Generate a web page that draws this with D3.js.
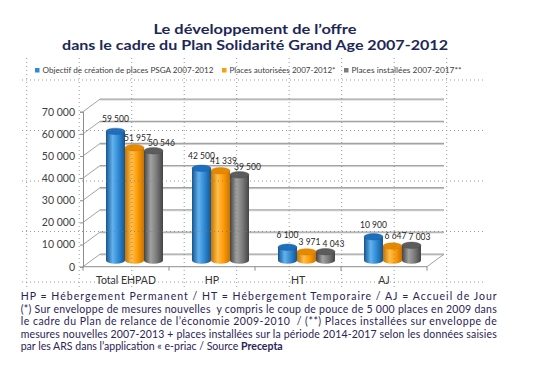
<!DOCTYPE html>
<html><head><meta charset="utf-8">
<script src="https://cdn.jsdelivr.net/npm/d3@7"></script>
<style>html,body{margin:0;padding:0;background:#fff;} svg{display:block;}</style>
</head><body><svg id="c" width="534" height="373"></svg>
<script>
// ---------- DATA ----------
const categories = ["Total EHPAD", "HP", "HT", "AJ"];
const seriesNames = ["Objectif de création de places PSGA 2007-2012", "Places autorisées 2007-2012*", "Places installées 2007-2017**"];
const objectif = [59500, 42500, 6100, 10900];
const autorisees = [51957, 41339, 3971, 6647];
const installees = [50546, 39500, 4043, 7003];
const yTicks = [0, 10000, 20000, 30000, 40000, 50000, 60000, 70000];
const titleLines = ["Le développement de l’offre", "dans le cadre du Plan Solidarité Grand Age 2007-2012"];
const noteLines = [
  "HP = Hébergement Permanent / HT = Hébergement Temporaire / AJ = Accueil de Jour",
  "(*) Sur enveloppe de mesures nouvelles  y compris le coup de pouce de 5 000 places en 2009 dans",
  "le cadre du Plan de relance de l’économie 2009-2010  / (**) Places installées sur enveloppe de",
  "mesures nouvelles 2007-2013 + places installées sur la période 2014-2017 selon les données saisies",
  "par les ARS dans l’application « e-priac / Source "
];
const noteBold = "Precepta";

// ---------- STYLE / LAYOUT ----------
const seriesValues = [objectif, autorisees, installees];
const colors = [
  {edge:"#15558f", mid:"#2f8ad6", hi:"#63b2ee", top:"#1d6fbd"},
  {edge:"#c77300", mid:"#ff9c0a", hi:"#ffbf4a", top:"#e58a00"},
  {edge:"#444444", mid:"#7c7c7c", hi:"#a2a2a2", top:"#5c5c5c"}
];
const FONT = "Lato, 'Open Sans', sans-serif";
const X0 = 83, X1 = 427, Y0 = 266.7, YT = 111.7, DX = 17, DY = -12.5;

const fr = d3.formatLocale({decimal: ",", thousands: "\u00a0", grouping: [3], currency: ["", " €"]});
const fmt = fr.format(",d");

const svg = d3.select("#c");
const defs = svg.append("defs");
colors.forEach((c, i) => {
  const g = defs.append("linearGradient").attr("id", "g" + i).attr("x1", 0).attr("x2", 1).attr("y1", 0).attr("y2", 0);
  g.append("stop").attr("offset", "0%").attr("stop-color", c.edge);
  g.append("stop").attr("offset", "35%").attr("stop-color", c.hi);
  g.append("stop").attr("offset", "65%").attr("stop-color", c.mid);
  g.append("stop").attr("offset", "100%").attr("stop-color", c.edge);
});

// Title
const TITLE = "#1d2858";
svg.selectAll("text.title").data(titleLines).join("text")
  .attr("class", "title")
  .attr("x", 255).attr("y", (d, i) => 34 + i * 16)
  .attr("text-anchor", "middle")
  .attr("font-family", FONT).attr("font-weight", "bold").attr("font-size", 14)
  .attr("fill", TITLE)
  .attr("textLength", (d, i) => i === 0 ? 203 : 386)
  .attr("lengthAdjust", "spacingAndGlyphs")
  .text(d => d);

// Legend
const legX = [35, 222, 344], legW = [171, 106, 110];
const leg = svg.append("g");
seriesNames.forEach((n, i) => {
  leg.append("rect").attr("x", legX[i]).attr("y", 68).attr("width", 4.5).attr("height", 4.5).attr("fill", colors[i].mid);
  leg.append("text").attr("x", legX[i] + 7.5).attr("y", 73)
    .attr("font-family", FONT).attr("font-size", 8).attr("fill", "#404040")
    .attr("textLength", legW[i]).attr("lengthAdjust", "spacingAndGlyphs")
    .text(n);
});

// Scales
const x = d3.scaleBand().domain(categories).range([X0, X1]);
const yFront = d3.scaleLinear().domain([0, 70000]).range([Y0, YT]);
const yBar = d3.scaleLinear().domain([0, 70000]).range([Y0 + DY / 2, Y0 + DY / 2 - 151.9]);
const xs = d3.scaleBand().domain(d3.range(seriesNames.length)).range([0, 57]);

// 3D walls / grid
const grid = svg.append("g");
yTicks.forEach(v => {
  const yb = yFront(v) + DY;
  grid.append("line").attr("x1", X0 + DX).attr("x2", X1 + DX).attr("y1", yb + 1).attr("y2", yb + 1)
    .attr("stroke", "#dcdcdc").attr("stroke-width", 1);
  grid.append("line").attr("x1", X0 + DX).attr("x2", X1 + DX).attr("y1", yb).attr("y2", yb)
    .attr("stroke", "#a3a3a3").attr("stroke-width", 1.3);
  grid.append("line").attr("x1", X0).attr("x2", X0 + DX).attr("y1", yFront(v)).attr("y2", yb)
    .attr("stroke", "#a3a3a3").attr("stroke-width", 1);
});
// floor
grid.append("line").attr("x1", X0).attr("x2", X1).attr("y1", Y0).attr("y2", Y0).attr("stroke", "#a3a3a3").attr("stroke-width", 1.2);
grid.append("line").attr("x1", X1).attr("x2", X1 + DX).attr("y1", Y0).attr("y2", Y0 + DY).attr("stroke", "#a3a3a3").attr("stroke-width", 1);

// Y axis
const yAxis = svg.append("g").attr("transform", `translate(${X0},0)`)
  .call(d3.axisLeft(yFront).tickValues(yTicks).tickSize(3).tickPadding(5).tickFormat(fmt));
yAxis.select(".domain").attr("stroke", "#8c8c8c");
yAxis.selectAll(".tick line").attr("stroke", "#8c8c8c");
yAxis.selectAll("text").attr("font-family", FONT).attr("font-size", 10.5).attr("fill", "#404040");

// Category ticks & labels
const cats = svg.append("g");
d3.range(categories.length + 1).forEach(i => {
  const xx = X0 + i * x.bandwidth();
  cats.append("line").attr("x1", xx).attr("x2", xx).attr("y1", Y0).attr("y2", Y0 + 4).attr("stroke", "#8c8c8c");
});
cats.selectAll("text").data(categories).join("text")
  .attr("x", d => x(d) + x.bandwidth() / 2).attr("y", 284)
  .attr("text-anchor", "middle").attr("font-family", FONT).attr("font-size", 10.5).attr("fill", "#333")
  .text(d => d);

// Cylinders
const RY = 3.2;
const bars = [];
seriesValues.forEach((vals, s) => vals.forEach((v, c) => bars.push({s, c, v})));
const bw = xs.bandwidth();
const bx = d => x(categories[d.c]) + x.bandwidth() / 2 + DX / 2 - 28.5 + xs(d.s);
const gb = svg.append("g");
categories.forEach((cat, c) => {
  bars.filter(b => b.c === c).forEach(d => {
    const x0 = bx(d), yb = yBar(0), yt = yBar(d.v);
    gb.append("ellipse").attr("cx", x0 + bw / 2).attr("cy", yb).attr("rx", bw / 2).attr("ry", RY).attr("fill", `url(#g${d.s})`);
    gb.append("rect").attr("x", x0).attr("y", yt).attr("width", bw).attr("height", yb - yt).attr("fill", `url(#g${d.s})`);
    gb.append("ellipse").attr("cx", x0 + bw / 2).attr("cy", yt).attr("rx", bw / 2).attr("ry", RY)
      .attr("fill", colors[d.s].top).attr("stroke", colors[d.s].edge).attr("stroke-width", 0.4);
  });
});

// Value labels
const lx = [0, 3, 8], ly = [12, 10, 8];
svg.append("g").selectAll("text").data(bars).join("text")
  .attr("x", d => bx(d) + bw / 2 + lx[d.s]).attr("y", d => yBar(d.v) - ly[d.s] + 3)
  .attr("text-anchor", "middle").attr("font-family", FONT).attr("font-size", 8.5).attr("fill", "#262626")
  .text(d => fmt(d.v));

// Page table dotted guide lines
const dots = svg.append("g").attr("stroke", "#7a7a7a").attr("stroke-width", 1).attr("stroke-dasharray", "1,3").attr("opacity", 0.75);
d3.range(9).forEach(i => {
  const xx = 26.7 + i * 52.5;
  dots.append("line").attr("x1", xx).attr("x2", xx).attr("y1", 58).attr("y2", 290);
});
d3.range(5).forEach(i => {
  const yy = 80 + i * 50.5;
  dots.append("line").attr("x1", 22).attr("x2", 484).attr("y1", yy).attr("y2", yy);
});

// Footnote
const NOTE = "#2a2356";
const nt = svg.append("g");
noteLines.forEach((t, i) => {
  const tx = nt.append("text").attr("x", 20.7).attr("y", 300 + i * 12.6)
    .attr("font-family", FONT).attr("font-size", 10.5).attr("fill", NOTE)
    .attr("xml:space", "preserve");
  if (i < noteLines.length - 1) {
    tx.attr("textLength", 476).attr("lengthAdjust", "spacing").text(t);
  } else {
    tx.attr("textLength", 262).attr("lengthAdjust", "spacingAndGlyphs");
    tx.append("tspan").text(t);
    tx.append("tspan").attr("font-weight", "bold").text(noteBold);
  }
});
</script></body></html>
